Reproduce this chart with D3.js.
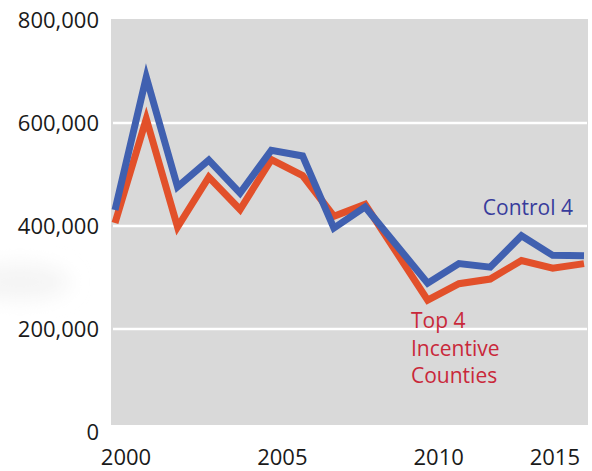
<!DOCTYPE html>
<html>
<head>
<meta charset="utf-8">
<script src="https://cdn.jsdelivr.net/npm/d3@7"></script>
<style>
  body { margin: 0; background: #fff; }
  text { font-family: "Open Sans", sans-serif; }
</style>
</head>
<body>
<div id="chart"></div>
<script>
// years with a value (no 2009 point in the source, line goes straight 2008 -> 2010)
var years = [2000, 2001, 2002, 2003, 2004, 2005, 2006, 2007, 2008, 2010, 2011, 2012, 2013, 2014, 2015];
var control4 = [431000, 689000, 476000, 528000, 464000, 547000, 536000, 396000, 437000, 289000, 327000, 320000, 381000, 343000, 342000];
var top4 = [406000, 608000, 398000, 495000, 432000, 529000, 498000, 419000, 442000, 256000, 288000, 297000, 333000, 318000, 327000];
var yTicks = [0, 200000, 400000, 600000, 800000];
var xTicks = [2000, 2005, 2010, 2015];

var W = 592, H = 471;
var margin = {top: 20, right: 8, bottom: 39, left: 115};

var svg = d3.select("#chart").append("svg")
    .attr("width", W)
    .attr("height", H);

// faint blurred blob at the left edge
var defs = svg.append("defs");
defs.append("filter").attr("id", "blur")
    .attr("x", "-50%").attr("y", "-50%").attr("width", "200%").attr("height", "200%")
  .append("feGaussianBlur").attr("stdDeviation", 10);
svg.append("ellipse")
    .attr("cx", 20).attr("cy", 282).attr("rx", 50).attr("ry", 18)
    .attr("fill", "#f4f4f4")
    .attr("filter", "url(#blur)");

var x = d3.scaleLinear().domain([2000, 2015]).range([margin.left, 584]);
var y = d3.scaleLinear().domain([0, 800000]).range([432, margin.top]);

// plot background
svg.append("rect")
    .attr("x", 111).attr("y", 19)
    .attr("width", 477).attr("height", 406)
    .attr("fill", "#d9d9d9");

// grid lines
svg.append("g").selectAll("line")
    .data(yTicks.filter(function(d) { return d > 0 && d < 800000; }))
  .enter().append("line")
    .attr("x1", 113).attr("x2", 587)
    .attr("y1", function(d) { return y(d); })
    .attr("y2", function(d) { return y(d); })
    .attr("stroke", "#fff")
    .attr("stroke-width", 2.5);

// y axis labels
var fmt = d3.format(",");
svg.append("g").selectAll("text")
    .data(yTicks)
  .enter().append("text")
    .attr("x", 99)
    .attr("y", function(d) { return y(d); })
    .attr("dy", "0.35em")
    .attr("text-anchor", "end")
    .attr("font-size", 22)
    .attr("fill", "#1a1a1a")
    .text(function(d) { return fmt(d); });

// x axis labels (shifted right a little, last one kept inside)
svg.append("g").selectAll("text")
    .data(xTicks)
  .enter().append("text")
    .attr("x", function(d, i) {
      return i == xTicks.length - 1 ? 580 : x(d) + 11;
    })
    .attr("y", 465)
    .attr("text-anchor", function(d, i) { return i == xTicks.length - 1 ? "end" : "middle"; })
    .attr("font-size", 22)
    .attr("fill", "#1a1a1a")
    .text(function(d) { return d; });

var line = d3.line()
    .x(function(d) { return x(d[0]); })
    .y(function(d) { return y(d[1]); });

svg.append("path")
    .datum(d3.zip(years, top4))
    .attr("d", line)
    .attr("fill", "none")
    .attr("stroke", "#e2502a")
    .attr("stroke-width", 7)
    .attr("stroke-linejoin", "miter");

svg.append("path")
    .datum(d3.zip(years, control4))
    .attr("d", line)
    .attr("fill", "none")
    .attr("stroke", "#4060b0")
    .attr("stroke-width", 7)
    .attr("stroke-linejoin", "miter");

// series labels
svg.append("text")
    .attr("x", 573).attr("y", 215)
    .attr("text-anchor", "end")
    .attr("font-size", 21)
    .attr("fill", "#383c9c")
    .text("Control 4");

var lab = svg.append("text")
    .attr("x", 411).attr("y", 328)
    .attr("font-size", 21)
    .attr("fill", "#c9283a");
["Top 4", "Incentive", "Counties"].forEach(function(t, i) {
  lab.append("tspan").attr("x", 411).attr("dy", i == 0 ? 0 : 27.5).text(t);
});
</script>
</body>
</html>
